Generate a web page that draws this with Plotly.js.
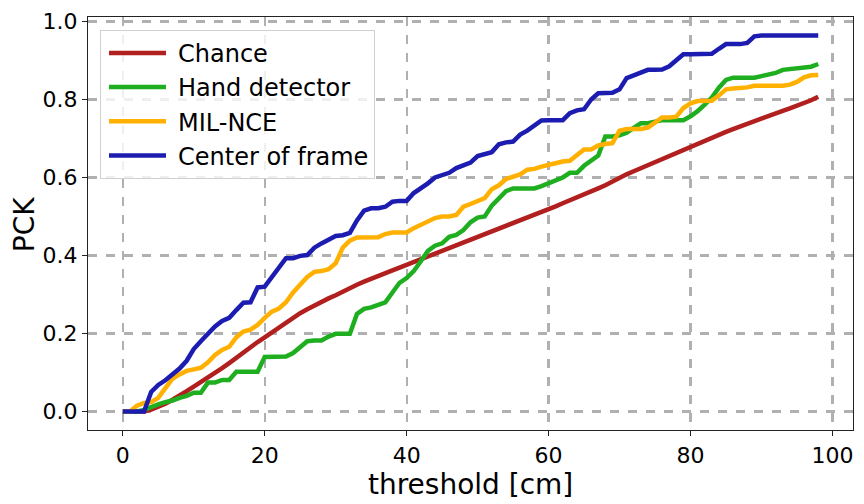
<!DOCTYPE html>
<html>
<head>
<meta charset="utf-8">
<script src="https://cdn.plot.ly/plotly-3.0.1.min.js"></script>
<style>html,body{margin:0;padding:0;background:#fff;}#chart{width:864px;height:504px;}</style>
</head>
<body>
<div id="chart"></div>
<script>
const thresholds = Array.from({length: 99}, (_, i) => i);

const chance = [0,0,0,0,0.005,0.012,0.02,0.03,0.04,0.052,0.064,0.075,0.087,0.099,0.111,0.124,0.138,0.151,0.165,0.178,
0.19,0.203,0.215,0.228,0.24,0.252,0.262,0.272,0.281,0.29,0.298,0.308,0.317,0.325,0.333,0.341,0.348,0.355,0.362,0.369,
0.376,0.384,0.392,0.399,0.406,0.412,0.419,0.426,0.433,0.439,0.446,0.453,0.461,0.468,0.475,0.483,0.49,0.497,0.504,0.511,
0.519,0.526,0.534,0.541,0.549,0.556,0.564,0.572,0.58,0.59,0.6,0.608,0.616,0.624,0.632,0.64,0.648,0.656,0.664,0.672,
0.679,0.687,0.695,0.702,0.71,0.717,0.724,0.731,0.738,0.745,0.753,0.759,0.765,0.771,0.777,0.783,0.79,0.798,0.807];

const handDetector = [0,0,0,0.004,0.012,0.018,0.024,0.028,0.035,0.04,0.048,0.048,0.074,0.074,0.081,0.081,0.102,0.102,0.102,0.102,
0.14,0.141,0.141,0.141,0.15,0.165,0.18,0.182,0.182,0.192,0.199,0.199,0.199,0.25,0.263,0.267,0.274,0.28,0.305,0.33,
0.342,0.36,0.385,0.412,0.425,0.431,0.448,0.453,0.465,0.485,0.497,0.5,0.528,0.545,0.565,0.572,0.572,0.572,0.572,0.578,
0.585,0.592,0.6,0.612,0.612,0.63,0.642,0.656,0.705,0.705,0.708,0.715,0.727,0.739,0.739,0.743,0.747,0.747,0.747,0.747,
0.757,0.77,0.787,0.805,0.83,0.85,0.856,0.856,0.856,0.856,0.86,0.863,0.868,0.876,0.878,0.88,0.88,0.884,0.891];

const milNce = [0,0,0.015,0.022,0.024,0.035,0.06,0.084,0.095,0.104,0.108,0.112,0.126,0.145,0.158,0.166,0.19,0.205,0.21,0.222,
0.24,0.256,0.264,0.28,0.305,0.325,0.345,0.358,0.36,0.365,0.38,0.42,0.438,0.446,0.447,0.447,0.447,0.455,0.459,0.459,
0.459,0.47,0.478,0.488,0.496,0.5,0.5,0.504,0.525,0.532,0.538,0.547,0.57,0.58,0.596,0.603,0.608,0.62,0.622,0.628,
0.632,0.638,0.641,0.643,0.658,0.672,0.672,0.682,0.686,0.688,0.72,0.724,0.724,0.724,0.728,0.742,0.754,0.754,0.756,0.778,
0.79,0.796,0.797,0.797,0.81,0.826,0.828,0.829,0.831,0.835,0.835,0.835,0.835,0.835,0.838,0.845,0.857,0.862,0.863];

const centerOfFrame = [0,0,0,0,0.05,0.068,0.08,0.095,0.11,0.13,0.16,0.18,0.2,0.218,0.232,0.24,0.26,0.279,0.28,0.318,
0.32,0.345,0.37,0.393,0.393,0.399,0.401,0.42,0.431,0.44,0.45,0.452,0.458,0.49,0.515,0.521,0.521,0.525,0.538,0.54,
0.54,0.56,0.572,0.585,0.6,0.606,0.612,0.624,0.632,0.638,0.655,0.66,0.665,0.685,0.69,0.692,0.71,0.72,0.732,0.746,
0.747,0.747,0.747,0.765,0.772,0.775,0.8,0.816,0.817,0.817,0.826,0.855,0.862,0.87,0.876,0.876,0.877,0.885,0.9,0.916,
0.916,0.916,0.916,0.917,0.93,0.942,0.942,0.942,0.945,0.962,0.964,0.964,0.964,0.964,0.964,0.964,0.964,0.964,0.964];

const seriesNames = ["Chance", "Hand detector", "MIL-NCE", "Center of frame"];
const seriesColors = ["#b21f1f", "#1fae1f", "#ffb000", "#1c1cb0"];
const seriesData = [chance, handDetector, milNce, centerOfFrame];

const xTicks = [0, 20, 40, 60, 80, 100];
const yTicks = [0.0, 0.2, 0.4, 0.6, 0.8, 1.0];
const yTickText = ["0.0", "0.2", "0.4", "0.6", "0.8", "1.0"];
const xLabel = "threshold [cm]";
const yLabel = "PCK";

const traces = seriesData.map((ys, i) => ({
  x: thresholds, y: ys, type: "scatter", mode: "lines",
  name: seriesNames[i],
  line: {color: seriesColors[i], width: 4.5}
}));

const axisCommon = {
  showline: true, mirror: true, linecolor: "#222", linewidth: 1.2,
  ticks: "outside", ticklen: 5, tickwidth: 1.2, tickcolor: "#222",
  showgrid: true, gridcolor: "#b0b0b0", gridwidth: 2.2, griddash: "dash",
  zeroline: false,
  tickfont: {family: "DejaVu Sans", size: 22, color: "#000"}
};

const titleFont = {family: "DejaVu Sans", size: 28, color: "#000"};

const layout = {
  width: 864, height: 504,
  margin: {l: 88, r: 11, t: 17, b: 74},
  paper_bgcolor: "#fff", plot_bgcolor: "#fff",
  font: {family: "DejaVu Sans", color: "#000"},
  showlegend: true,
  legend: {
    x: 0.0157, y: 0.969, xanchor: "left", yanchor: "top",
    bgcolor: "rgba(255,255,255,0.8)", bordercolor: "#d0d0d0", borderwidth: 1,
    font: {family: "DejaVu Sans", size: 24, color: "#000"},
    tracegroupgap: 0, itemwidth: 67
  },
  xaxis: Object.assign({}, axisCommon, {
    range: [-4.9, 102.9], tickvals: xTicks, ticktext: xTicks.map(String)
  }),
  yaxis: Object.assign({}, axisCommon, {
    range: [-0.0475, 1.0115], tickvals: yTicks, ticktext: yTickText
  }),
  annotations: [
    {text: xLabel, xref: "paper", yref: "paper", x: 0.5, y: -0.131, xanchor: "center", yanchor: "middle",
     showarrow: false, font: titleFont, borderpad: 0},
    {text: yLabel, xref: "paper", yref: "paper", x: -0.083, y: 0.497, xanchor: "center", yanchor: "middle",
     textangle: -90, showarrow: false, font: titleFont, borderpad: 0}
  ]
};

Plotly.newPlot("chart", traces, layout, {displayModeBar: false, staticPlot: true}).then(gd => {
  gd.querySelectorAll(".legend .legendlines path").forEach(p => p.setAttribute("d", "M8,0h57"));
});
</script>
</body>
</html>
